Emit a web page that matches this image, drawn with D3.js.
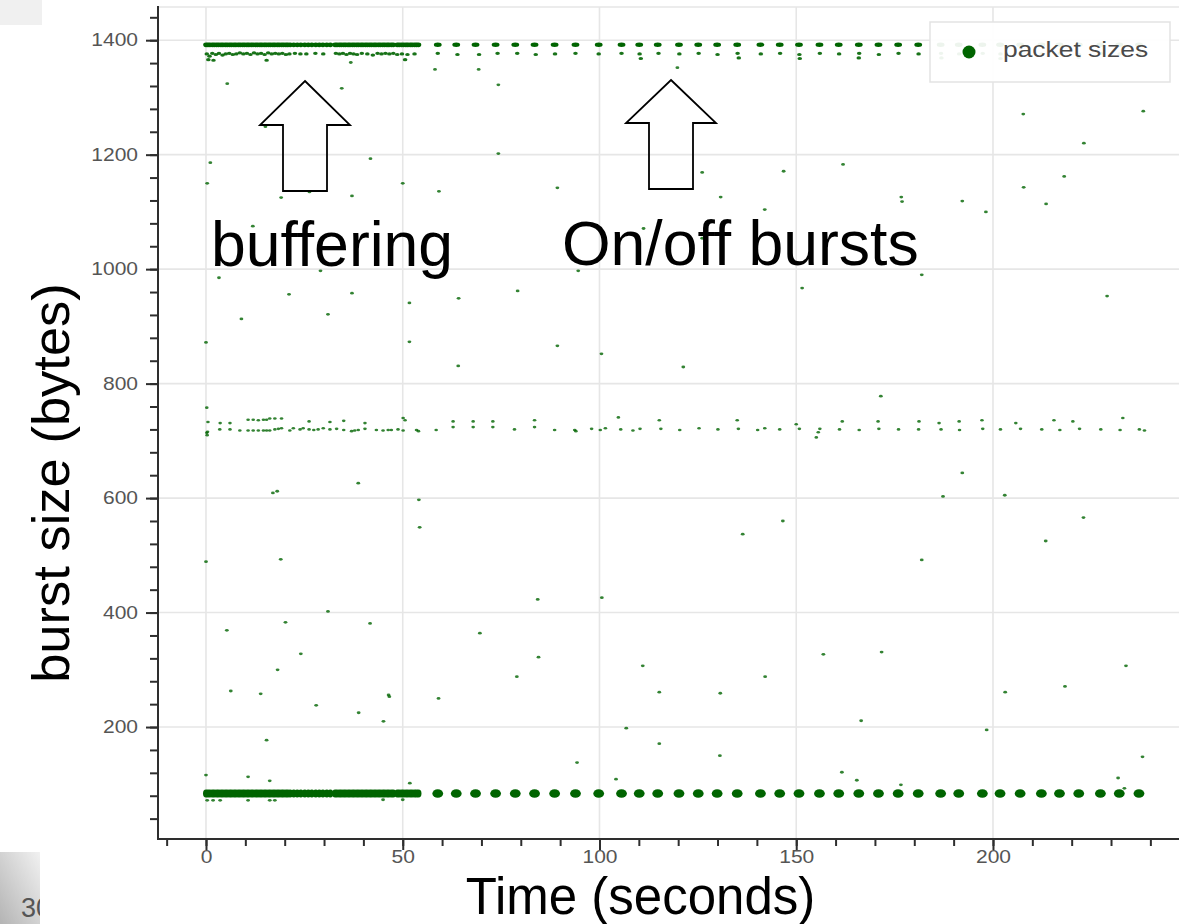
<!DOCTYPE html>
<html>
<head>
<meta charset="utf-8">
<script src="https://cdn.jsdelivr.net/npm/d3@7"></script>
<style>
  html, body { margin: 0; padding: 0; background: #fff; }
  svg { display: block; }
  text { font-family: "Liberation Sans", Arial, Helvetica, sans-serif; }
</style>
</head>
<body>
<svg id="chart" width="1179" height="924"></svg>
<script>
// ---- data -------------------------------------------------------------
// packet times (s) while the player fills its buffer
const bufferTimes = [
  0.0,0.5,1.0,1.6,2.1,2.7,3.2,3.8,4.3,4.9,5.4,6.0,6.5,7.1,7.6,8.2,8.7,9.3,9.8,10.4,
  10.9,11.5,12.0,12.6,13.1,13.7,14.2,14.8,15.3,15.9,16.4,17.0,17.5,18.1,18.6,19.2,19.7,20.3,20.8,21.4,
  22.3,23.2,24.1,25.1,26.0,26.9,27.9,28.8,29.7,30.7,31.6,
  32.8,33.3,33.9,34.4,35.0,35.5,36.1,36.6,37.2,37.7,38.3,38.8,39.4,39.9,40.5,41.0,41.6,42.1,42.7,
  43.2,43.8,44.3,44.9,45.4,46.0,46.5,47.1,47.6,48.6,49.1,49.7,50.2,50.8,51.3,51.9,52.4,53.0,53.5,54.0
];
// start times (s) of the periodic on/off bursts
const burstTimes = [
  58.9,63.6,68.5,73.6,78.6,83.5,88.6,93.9,99.8,105.6,110.1,114.8,120.2,125.1,129.9,135.0,140.9,145.8,
  150.7,155.9,160.8,165.9,170.9,175.9,181.0,186.7,191.3,197.3,201.8,206.9,212.3,216.9,221.8,227.3,232.1,237.1
];
// recurring burst sizes (bytes)
const fullBurstBytes = 1392;
const ackBurstBytes = 84;

// secondary row just under the full-size bursts [time s, bytes]
const secondRow = [
  [0.2,1376],[0.9,1372],[1.6,1377],[2.5,1375],[3.3,1377],[4.2,1374],[5.0,1376],[5.9,1377],[6.8,1375],[7.7,1376],
  [8.6,1378],[9.5,1376],[10.4,1377],[11.3,1375],[12.2,1378],[13.1,1376],[14.0,1377],[14.9,1375],[15.8,1378],[16.7,1376],
  [17.6,1377],[18.5,1376],[19.4,1377],[20.3,1375],[21.2,1376],[22.6,1377],[24.0,1376],[25.5,1376],[27.8,1377],[29.8,1376],
  [33.0,1377],[33.9,1376],[34.8,1377],[35.7,1375],[36.6,1377],[37.5,1376],[38.4,1375],[39.6,1377],[41.0,1376],[42.4,1374],
  [43.6,1377],[44.6,1376],[45.6,1377],[46.6,1376],[47.6,1377],[48.6,1375],[49.8,1376],[51.2,1375],[53.0,1376],
  [0.6,1366],[1.9,1365],[15.4,1365],[50.6,1366],
  [58.9,1377],[63.9,1375],[69.4,1375],[74.1,1377],[79.1,1377],[83.8,1375],[88.7,1376],[93.9,1377],[99.8,1376],[105.6,1377],
  [110.2,1376],[110.5,1368],[115.0,1377],[120.3,1376],[125.2,1377],[130.0,1375],[135.1,1377],[135.4,1369],[141.0,1376],[145.9,1377],
  [150.8,1375],[150.9,1368],[156.0,1377],[160.9,1376],[166.0,1377],[165.9,1369],[171.0,1375],[176.0,1377],[181.1,1376],[186.8,1377],
  [186.9,1369],[191.4,1376],[197.4,1377],[201.9,1376],[201.9,1368],[207.0,1377],[212.4,1376],[217.0,1377],[221.9,1375],[221.8,1370],
  [227.4,1377],[232.2,1376],[237.2,1377]
];

// middle band around 720 bytes [time s, bytes]
const midBand = [
  [0.2,758],[0.5,733],[0.2,714],[0.3,710],[0.4,716],[3.6,731],[3.5,720],[6.1,731],[6.1,720],[8.6,718],
  [10.7,737],[10.7,718],[12.0,737],[12.0,718],[13.3,736],[13.3,718],[14.6,737],[14.6,718],[15.4,737],[15.4,718],
  [16.2,739],[16.2,718],[17.5,739],[17.5,720],[18.4,721],[19.2,739],[19.2,722],[21.3,718],[22.2,722],[23.9,720],
  [24.7,722],[26.2,734],[26.2,720],[27.4,719],[28.5,720],[29.8,722],[31.5,733],[31.5,720],[33.2,721],[35.0,735],
  [35.0,719],[37.0,717],[37.8,718],[38.7,719],[40.4,731],[40.4,721],[43.3,719],[45.0,718],[46.3,719],[47.1,719],
  [48.8,720],[50.1,740],[50.6,736],[50.1,718],[53.5,719],[54.0,717],[58.5,719],[62.8,734],[62.8,724],[67.9,734],
  [67.9,724],[72.9,734],[72.9,724],[78.4,720],[83.5,736],[83.5,724],[88.6,719],[93.7,719],[94.0,717],
  [98.0,721],[100.2,719],[101.5,722],[104.8,741],[105.4,720],[108.5,718],[110.3,721],[115.2,736],[115.6,721],[120.4,719],
  [125.3,722],[130.1,720],[135.0,736],[135.3,721],[140.2,719],[142.0,722],[145.8,720],[150.0,729],[150.8,721],[155.1,706],
  [155.6,715],[156.0,721],[161.7,734],[161.0,720],[166.0,719],[170.8,734],[171.0,721],[176.0,720],[181.2,734],[181.1,720],
  [186.3,731],[186.8,720],[191.4,734],[191.5,719],[197.2,736],[197.4,721],[201.9,720],[205.8,731],[207.0,721],[212.4,720],
  [215.5,736],[217.0,719],[220.3,734],[222.0,721],[227.4,720],[233.0,740],[232.3,719],[237.2,720],[238.5,718]
];

// isolated packets [time s, bytes]
const scattered = [
  [5.4,1324],[34.5,1316],[74.3,1322],[58.2,1349],[69.3,1349],[36.8,1361],[119.8,1352],
  [15.1,1249],[1.1,1186],[41.8,1193],[74.3,1202],[0.3,1150],[50.0,1150],[59.2,1136],[89.3,1142],[19.1,1125],
  [26.3,1135],[37.1,1128],[11.9,1075],[111.2,1071],
  [3.3,985],[29.1,997],[94.6,997],[21.1,956],[37.1,958],[51.7,941],[64.2,949],[79.2,962],[9.0,913],[31.0,921],
  [0.0,872],[51.7,873],[89.3,866],[100.5,852],[64.1,831],
  [126.1,1169],[146.8,1171],[161.9,1183],[207.7,1271],[238.2,1276],[223.1,1220],[130.8,1126],[142.0,1104],
  [176.7,1126],[176.9,1118],[192.2,1119],[198.2,1100],[207.8,1143],[218.1,1162],[213.5,1114],[126.1,1054],
  [181.9,990],[151.5,967],[229.0,953],[121.3,829],[171.5,778],
  [38.7,626],[17.0,609],[18.1,612],[54.1,597],[54.3,549],[0.0,489],[19.0,493],[84.3,423],[100.6,426],[31.0,402],
  [5.3,369],[20.2,383],[41.7,381],[69.6,364],[24.1,328],[84.5,322],[18.2,300],[79.0,288],[111.0,307],[6.3,263],
  [13.9,258],[46.4,256],[46.6,253],[28.0,238],[38.8,225],[45.1,210],[59.1,250],[115.2,261],[15.4,177],[106.8,198],
  [115.2,171],[94.3,138],[0.0,116],[10.7,113],[104.2,109],
  [192.2,644],[187.3,603],[203.0,605],[146.6,560],[136.4,537],[181.9,492],[223.0,566],[213.4,525],[156.9,327],
  [171.7,331],[142.1,288],[130.7,259],[203.1,261],[218.3,271],[233.8,307],[166.5,211],[198.4,195],[130.6,150],
  [161.6,121],[238.0,148],[231.8,111],[165.4,107],
  [16.2,106],[51.8,102],[176.6,99],[233.4,93],
  [0.3,72],[1.8,72],[3.6,72],[10.7,72],[16.2,72],[17.5,72],[45.0,73],[50.0,73]
];

const xTickValues = [0, 50, 100, 150, 200];
const yTickValues = [200, 400, 600, 800, 1000, 1200, 1400];
const xMinorValues = d3.range(-10, 241, 10);
const yMinorValues = d3.range(40, 1441, 40);

const legendLabel = "packet sizes";
const xTitle = "Time (seconds)";
const yTitle = "burst size (bytes)";
const noteBuffering = "buffering";
const noteBursts = "On/off bursts";
const slideNumber = "30";

// ---- layout -------------------------------------------------------------
const svg = d3.select("#chart");
const frame = { left: 158, right: 1185, top: 7, bottom: 839 };
const x = d3.scaleLinear().domain([-12.45, 248.8]).range([157, frame.right]);
const y = d3.scaleLinear().domain([4.4, 1458]).range([frame.bottom, frame.top]);
const green = "#006400";
const stretch = 1.2; // horizontal stretch of the embedded plot's lettering

const defs = svg.append("defs");
const grad = defs.append("linearGradient").attr("id", "slideGrad")
  .attr("x1", "0").attr("y1", "1").attr("x2", "1").attr("y2", "0");
grad.append("stop").attr("offset", "0%").attr("stop-color", "#b4b4b4");
grad.append("stop").attr("offset", "100%").attr("stop-color", "#f1f1f1");
defs.append("clipPath").attr("id", "slideClip")
  .append("rect").attr("x", 0).attr("y", 850).attr("width", 40).attr("height", 74);

// slide margin behind the plot image
svg.append("rect").attr("x", 0).attr("y", 0).attr("width", 42).attr("height", 25).attr("fill", "#f0f0f0");
svg.append("rect").attr("x", 0).attr("y", 852).attr("width", 40).attr("height", 72).attr("fill", "url(#slideGrad)");
svg.append("text").attr("clip-path", "url(#slideClip)")
  .attr("x", 21).attr("y", 917).attr("font-size", 27).attr("fill", "#555")
  .text(slideNumber);

// grid and outline
const grid = svg.append("g").attr("stroke", "#e6e6e6").attr("stroke-width", 1.6);
grid.selectAll("line.v").data(xTickValues).join("line").attr("class", "v")
  .attr("x1", d => x(d)).attr("x2", d => x(d)).attr("y1", frame.top).attr("y2", frame.bottom);
grid.selectAll("line.h").data(yTickValues).join("line").attr("class", "h")
  .attr("x1", frame.left).attr("x2", frame.right).attr("y1", d => y(d)).attr("y2", d => y(d));
grid.append("line").attr("x1", frame.left).attr("x2", frame.right)
  .attr("y1", frame.top).attr("y2", frame.top);

// ---- points -------------------------------------------------------------
const pts = svg.append("g").attr("fill", green);

function dots(data, rx, ry, opacity) {
  pts.append("g").attr("fill-opacity", opacity)
    .selectAll("ellipse").data(data).join("ellipse")
    .attr("cx", d => x(d[0])).attr("cy", d => y(d[1]))
    .attr("rx", rx).attr("ry", ry);
}

dots(scattered, 1.9, 1.4, 0.8);
dots(midBand, 1.8, 1.3, 0.8);
dots(secondRow, 2.3, 1.6, 0.9);
dots(bufferTimes.map(t => [t, fullBurstBytes]), 2.8, 2.4, 1);
dots(bufferTimes.map(t => [t, ackBurstBytes]), 3.0, 4.0, 1);
dots(burstTimes.map(t => [t, fullBurstBytes]), 3.9, 2.2, 1);
dots(burstTimes.map(t => [t, ackBurstBytes]), 5.4, 4.3, 1);

// ---- legend ------------------------------------------------------------
const legend = svg.append("g");
legend.append("rect").attr("x", 930).attr("y", 22).attr("width", 240).attr("height", 60)
  .attr("fill", "#fff").attr("fill-opacity", 0.93)
  .attr("stroke", "#e3e3e3").attr("stroke-width", 1.5);
legend.append("circle").attr("cx", 969).attr("cy", 52).attr("r", 6.5).attr("fill", green);
legend.append("text").attr("transform", `translate(1003,57) scale(${stretch},1)`)
  .attr("font-size", 22).attr("fill", "#4a4a4a").text(legendLabel);

// ---- axes --------------------------------------------------------------
const axisColor = "#2e2e2e";
function styleAxis(g) {
  g.select(".domain").remove();
  g.selectAll(".tick line").attr("stroke", axisColor).attr("stroke-width", 2);
}

const yAxisG = svg.append("g").attr("transform", `translate(${frame.left},0)`);
yAxisG.append("g").call(d3.axisLeft(y).tickValues(yMinorValues).tickSize(8).tickFormat(""))
  .call(styleAxis);
const yMajor = yAxisG.append("g")
  .call(d3.axisLeft(y).tickValues(yTickValues).tickSize(12).tickPadding(8).tickFormat(d3.format("d")))
  .call(styleAxis);
yMajor.selectAll("text")
  .attr("font-size", 17.5).attr("fill", "#555")
  .attr("font-family", "'Liberation Sans', Arial, sans-serif")
  .attr("x", -20 / stretch).attr("transform", `scale(${stretch},1)`);
yAxisG.append("line").attr("x1", 0).attr("x2", 0).attr("y1", 6).attr("y2", frame.bottom + 1)
  .attr("stroke", axisColor).attr("stroke-width", 2);

const xAxisG = svg.append("g").attr("transform", `translate(0,${frame.bottom})`);
xAxisG.append("g").call(d3.axisBottom(x).tickValues(xMinorValues).tickSize(7).tickFormat(""))
  .call(styleAxis);
const xMajor = xAxisG.append("g")
  .call(d3.axisBottom(x).tickValues(xTickValues).tickSize(11).tickPadding(1).tickFormat(d3.format("d")))
  .call(styleAxis);
xMajor.selectAll("text")
  .attr("font-size", 17.5).attr("fill", "#555")
  .attr("font-family", "'Liberation Sans', Arial, sans-serif")
  .attr("transform", `scale(${stretch},1)`);
xAxisG.append("line").attr("x1", 157).attr("x2", frame.right).attr("y1", 0).attr("y2", 0)
  .attr("stroke", axisColor).attr("stroke-width", 2);

// ---- titles and notes ----------------------------------------------------
svg.append("text").attr("transform", "translate(69,483) rotate(-90)")
  .attr("text-anchor", "middle").attr("font-size", 52.5).attr("fill", "#000").text(yTitle);
svg.append("text").attr("x", 640.5).attr("y", 913.5)
  .attr("text-anchor", "middle").attr("font-size", 51).attr("fill", "#000").text(xTitle);

svg.append("text").attr("x", 211).attr("y", 265.5).attr("font-size", 62.5).attr("fill", "#000").text(noteBuffering);
svg.append("text").attr("x", 562).attr("y", 265).attr("font-size", 62.5).attr("fill", "#000").text(noteBursts);

// block arrows pointing at the two phases
function blockArrow(tipX, tipY, headY, headHalf, shaftHalf, baseY) {
  const p = [[tipX, tipY], [tipX + headHalf, headY], [tipX + shaftHalf, headY], [tipX + shaftHalf, baseY],
             [tipX - shaftHalf, baseY], [tipX - shaftHalf, headY], [tipX - headHalf, headY]];
  svg.append("polygon").attr("points", p.map(q => q.join(",")).join(" "))
    .attr("fill", "none").attr("stroke", "#000").attr("stroke-width", 1.8)
    .attr("stroke-linejoin", "miter");
}
blockArrow(305, 81, 125, 45, 22, 191);
blockArrow(671, 80, 123, 45, 22, 189);
</script>
</body>
</html>
